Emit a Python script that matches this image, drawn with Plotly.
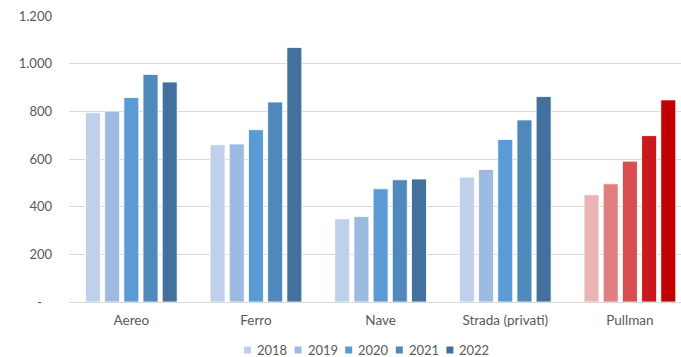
import plotly.graph_objects as go

# Categories and yearly values
categories = ["Aereo", "Ferro", "Nave", "Strada (privati)", "Pullman"]
years = ["2018", "2019", "2020", "2021", "2022"]
values_2018 = [794, 660, 349, 524, 450]
values_2019 = [801, 663, 359, 556, 496]
values_2020 = [858, 723, 475, 682, 591]
values_2021 = [955, 839, 513, 764, 698]
values_2022 = [923, 1068, 516, 862, 848]
series = [values_2018, values_2019, values_2020, values_2021, values_2022]

# Blue shades per year, red shades for the highlighted Pullman group
blues = ["#BED0EA", "#9DBAE0", "#5B9BD5", "#4F88BB", "#41719C"]
reds = ["#EBB4B4", "#E07F80", "#D64E50", "#C8191C", "#C00000"]

y_ticks = [0, 200, 400, 600, 800, 1000, 1200]
y_ticktext = ["-\u00a0\u00a0\u00a0", "200", "400", "600", "800", "1.000", "1.200"]

font_family = "Lato, 'Open Sans', sans-serif"
grey = "#595959"

W, H = 681, 357
M_L, M_R, M_T, M_B = 69, 0, 16, 55
plot_w = W - M_L - M_R
plot_h = H - M_T - M_B


def px_to_paper_x(px):
    return (px - M_L) / plot_w


def px_to_paper_y(py):
    return (H - M_B - py) / plot_h


fig = go.Figure()
for year, vals, blue, red in zip(years, series, blues, reds):
    colors = [red if c == "Pullman" else blue for c in categories]
    fig.add_trace(go.Bar(
        name=year,
        x=categories,
        y=vals,
        marker=dict(color=colors, line=dict(color="rgba(255,255,255,0.8)", width=1)),
        hoverinfo="x+y+name",
        showlegend=False,
    ))

# Compact legend row under the axis: small square + year label
legend_x0 = 244
legend_pitch = 50.6
legend_cy = 350
sq = 7
shapes = []
annotations = []
for i, (year, blue) in enumerate(zip(years, blues)):
    x0 = legend_x0 + i * legend_pitch
    shapes.append(dict(
        type="rect", xref="paper", yref="paper",
        x0=px_to_paper_x(x0), x1=px_to_paper_x(x0 + sq),
        y0=px_to_paper_y(legend_cy + sq / 2), y1=px_to_paper_y(legend_cy - sq / 2),
        fillcolor=blue, line=dict(width=0),
    ))
    annotations.append(dict(
        xref="paper", yref="paper",
        x=px_to_paper_x(x0 + sq + 4), y=px_to_paper_y(legend_cy),
        xanchor="left", yanchor="middle",
        text=year, showarrow=False,
        font=dict(family=font_family, size=13, color=grey),
    ))

fig.update_layout(
    width=W,
    height=H,
    margin=dict(l=M_L, r=M_R, t=M_T, b=M_B, autoexpand=False),
    paper_bgcolor="white",
    plot_bgcolor="white",
    barmode="group",
    bargap=0.23,
    bargroupgap=0.22,
    font=dict(family=font_family, size=13, color=grey),
    showlegend=False,
    shapes=shapes,
    annotations=annotations,
    xaxis=dict(
        range=[-0.5, 4.41],
        showgrid=False,
        showline=False,
        ticks="",
        ticklabelstandoff=8,
        tickfont=dict(size=13.5, color=grey),
        fixedrange=True,
    ),
    yaxis=dict(
        range=[0, 1200],
        tickvals=y_ticks,
        ticktext=y_ticktext,
        showgrid=True,
        gridcolor="#D9D9D9",
        gridwidth=1,
        zeroline=True,
        zerolinecolor="#D9D9D9",
        zerolinewidth=1,
        showline=False,
        ticks="",
        ticklabelstandoff=16,
        tickfont=dict(size=13, color=grey),
        fixedrange=True,
    ),
)

fig.write_html("out.html")
